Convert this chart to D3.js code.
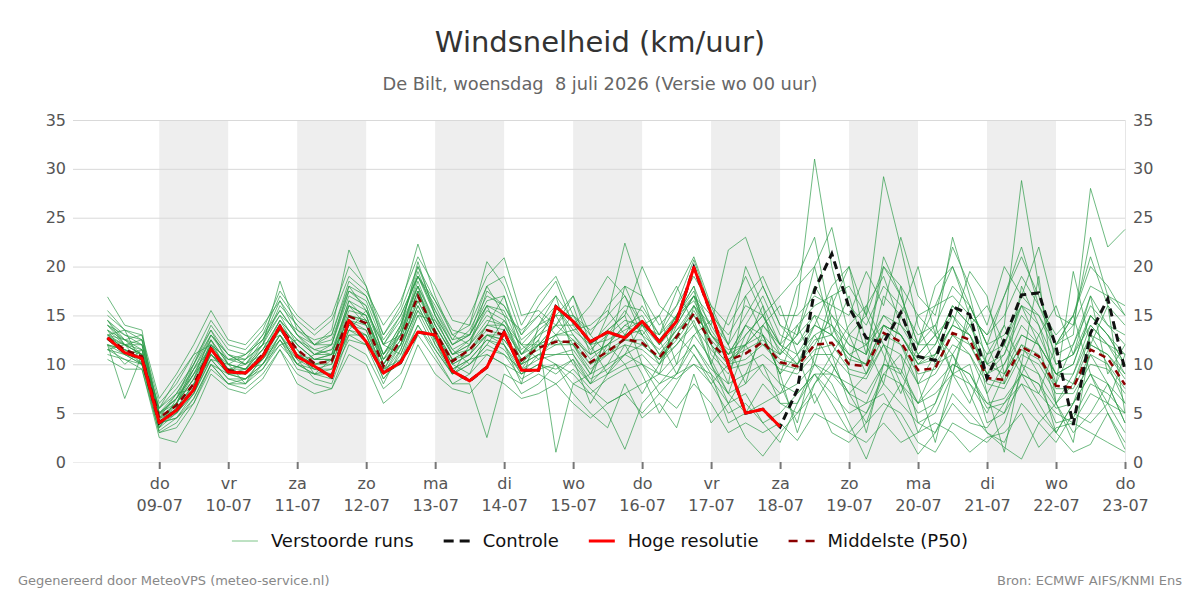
<!DOCTYPE html>
<html>
<head>
<meta charset="utf-8">
<script src="https://cdn.jsdelivr.net/npm/d3@7"></script>
<style>
  body { margin: 0; background: white; }
  #chart { width: 1200px; height: 600px; }
</style>
</head>
<body>
<div id="chart"></div>
<script>
var svgWidth = 1200;
var svgHeight = 600;

var margin = {
  top: 120,
  right: 75,
  bottom: 138,
  left: 73
};

var width = svgWidth - margin.left - margin.right;
var height = svgHeight - margin.top - margin.bottom;

var font = "'DejaVu Sans', sans-serif";

// Day names (Dutch) for the tick labels
var dayNames = ["zo", "ma", "di", "wo", "do", "vr", "za"];
var yTicks = [0, 5, 10, 15, 20, 25, 30, 35];

// Forecast runs, 6-hourly from wo 08-07 06:00
var startTime = new Date(2026, 6, 8, 6);

var hogeResolutie = [12.7, 11.2, 10.6, 4.0, 5.3, 7.4, 11.6, 9.2, 9.1, 10.8,
  13.9, 10.8, 9.8, 8.7, 14.5, 12.3, 9.1, 10.2, 13.3, 13.0,
  9.3, 8.3, 9.7, 13.3, 9.4, 9.4, 15.9, 14.4, 12.3, 13.3,
  12.7, 14.4, 12.3, 14.4, 19.9, 15.2, 10.0, 5.0, 5.4, 3.6];

var controle = [12.7, 11.2, 10.6, 4.0, 5.3, 7.4, 11.6, 9.2, 9.1, 10.8,
  13.9, 10.8, 9.8, 8.7, 14.5, 12.3, 9.1, 10.2, 13.3, 13.0,
  9.3, 8.3, 9.7, 13.3, 9.4, 9.4, 15.9, 14.4, 12.3, 13.3,
  12.7, 14.4, 12.3, 14.4, 19.9, 15.2, 10.0, 5.0, 5.4, 3.6,
  7.4, 17.6, 21.3, 15.8, 12.7, 12.2, 15.3, 10.8, 10.4, 15.9,
  15.1, 8.6, 12.5, 17.1, 17.3, 11.8, 3.8, 13.2, 16.7, 9.4];

var middelste = [12.7, 11.5, 10.8, 4.5, 5.8, 8.0, 11.5, 9.4, 9.1, 11.0,
  13.8, 11.5, 10.1, 10.3, 14.9, 14.2, 9.8, 12.5, 17.0, 13.3,
  10.3, 11.5, 13.5, 13.0, 10.4, 11.7, 12.3, 12.3, 10.2, 11.3,
  12.6, 12.2, 10.7, 12.8, 15.2, 12.2, 10.4, 11.1, 12.3, 10.2,
  9.8, 12.0, 12.2, 10.0, 9.8, 13.2, 12.3, 9.4, 9.6, 13.2,
  12.5, 8.6, 8.4, 11.8, 10.8, 7.8, 7.6, 11.5, 10.6, 7.9];

// Perturbed ensemble members
var run01 = [16.9, 14.0, 13.5, 3.5, 6.0, 9.5, 12.5, 10.0, 9.5, 12.0, 15.0, 12.0, 10.5, 11.0, 16.5, 15.5, 11.0, 14.0, 19.5, 15.0,
  12.0, 13.0, 16.0, 15.5, 11.5, 13.0, 15.0, 12.0, 9.0, 13.0, 15.5, 13.0, 10.0, 14.0, 17.0, 11.0, 9.0, 13.0, 15.0, 11.0,
  16.0, 31.0, 20.0, 13.0, 9.0, 14.0, 12.0, 8.0, 11.0, 15.0, 13.0, 9.0, 11.0, 16.0, 12.0, 6.0, 9.0, 14.0, 12.0, 10.0];
var run02 = [12.0, 6.5, 11.0, 4.0, 4.5, 7.0, 10.5, 8.5, 8.0, 10.0, 13.0, 10.0, 9.0, 9.0, 13.5, 13.0, 8.5, 11.0, 15.5, 12.0,
  9.5, 10.5, 12.5, 11.5, 9.0, 10.0, 9.5, 10.5, 8.0, 9.0, 10.0, 11.0, 9.0, 11.0, 13.0, 10.5, 7.0, 8.0, 10.0, 6.0,
  5.0, 8.0, 10.0, 7.0, 4.0, 9.0, 8.0, 5.0, 6.0, 10.0, 9.0, 5.5, 6.0, 9.0, 8.0, 4.0, 4.5, 8.0, 7.0, 5.0];
var run03 = [13.5, 12.0, 11.0, 5.0, 6.5, 9.0, 12.0, 10.5, 10.0, 11.5, 14.5, 12.5, 11.0, 11.5, 16.0, 15.0, 10.5, 13.0, 18.5, 14.0,
  11.0, 12.5, 15.0, 14.0, 12.0, 14.0, 16.0, 13.0, 11.0, 15.0, 22.4, 17.0, 12.0, 15.0, 17.5, 12.0, 10.0, 14.0, 13.0, 9.0,
  11.0, 14.0, 18.0, 20.0, 15.0, 29.2, 22.0, 14.0, 10.0, 13.0, 11.0, 7.0, 10.0, 14.0, 12.0, 9.0, 10.0, 15.0, 13.0, 11.0];
var run04 = [12.5, 11.0, 10.5, 4.2, 5.5, 7.5, 11.0, 9.0, 9.0, 10.5, 13.5, 11.0, 9.5, 10.0, 14.5, 14.0, 9.0, 12.0, 16.5, 13.0,
  10.0, 11.0, 13.0, 12.5, 10.0, 11.0, 11.0, 11.5, 9.0, 10.0, 11.0, 12.0, 10.5, 12.0, 14.5, 10.0, 6.0, 7.0, 4.0, 2.0,
  6.0, 10.0, 8.0, 4.0, 0.3, 5.0, 8.0, 3.0, 6.0, 11.0, 7.0, 3.0, 1.5, 0.3, 4.0, 6.0, 3.0, 5.0, 8.0, 4.0];
var run05 = [14.0, 12.5, 11.5, 5.5, 7.0, 10.0, 13.5, 11.0, 10.0, 12.5, 15.5, 13.0, 11.5, 12.0, 17.0, 16.0, 11.0, 14.0, 20.0, 15.5,
  12.5, 13.0, 16.5, 17.0, 12.0, 12.0, 14.0, 16.0, 11.0, 12.0, 14.0, 15.0, 12.0, 15.0, 18.0, 13.5, 11.0, 14.0, 17.0, 13.0,
  12.0, 15.0, 14.0, 11.0, 10.0, 17.0, 15.0, 11.0, 13.0, 23.0, 17.0, 10.0, 14.0, 28.8, 18.0, 10.0, 11.0, 17.0, 14.0, 12.0];
var run06 = [11.5, 11.0, 10.0, 3.0, 4.0, 6.5, 10.0, 8.0, 8.5, 9.5, 12.5, 10.5, 8.5, 8.0, 13.0, 12.0, 8.0, 11.5, 16.0, 12.5,
  9.0, 10.0, 12.0, 11.0, 9.5, 12.0, 13.0, 10.0, 8.0, 10.0, 13.0, 14.0, 11.0, 13.0, 16.0, 13.0, 11.5, 12.0, 13.0, 11.0,
  13.0, 18.0, 15.0, 12.0, 11.0, 15.0, 13.0, 10.0, 12.0, 16.0, 14.0, 11.0, 12.0, 17.0, 15.0, 12.0, 13.0, 28.0, 22.0, 23.8];
var run07 = [13.0, 12.5, 12.0, 5.0, 6.0, 8.5, 13.0, 10.5, 10.5, 12.0, 16.0, 14.0, 12.0, 13.0, 18.5, 17.0, 13.0, 16.0, 22.3, 17.0,
  13.0, 14.0, 20.5, 18.0, 13.0, 15.0, 17.0, 14.5, 12.0, 14.0, 16.0, 15.5, 13.0, 16.0, 20.7, 15.5, 12.0, 15.0, 18.0, 14.0,
  13.0, 20.0, 24.0, 16.0, 14.0, 18.0, 16.0, 13.0, 14.0, 18.0, 16.0, 12.0, 13.0, 16.0, 15.0, 11.0, 12.0, 16.0, 14.0, 13.0];
var run08 = [12.0, 11.5, 10.5, 3.5, 5.0, 7.0, 11.0, 9.5, 9.0, 10.5, 12.5, 9.5, 9.0, 9.5, 13.0, 13.0, 9.0, 10.0, 14.0, 11.0,
  8.0, 8.0, 2.5, 9.0, 8.0, 9.0, 8.0, 9.5, 7.5, 6.0, 7.0, 8.0, 9.0, 8.5, 10.0, 9.0, 7.0, 5.0, 6.0, 7.0,
  8.0, 10.0, 9.0, 8.0, 7.0, 10.0, 9.0, 6.0, 7.0, 9.0, 8.0, 6.0, 5.0, 8.0, 7.0, 5.0, 4.0, 7.0, 6.0, 5.0];
var run09 = [13.0, 12.0, 11.0, 4.5, 5.0, 7.5, 11.5, 9.0, 9.5, 11.0, 14.0, 11.0, 10.0, 10.5, 15.0, 14.5, 10.0, 12.5, 17.5, 13.0,
  10.5, 11.0, 14.0, 13.5, 11.0, 12.5, 1.0, 8.0, 7.0, 5.0, 1.3, 6.0, 8.0, 9.0, 10.0, 8.0, 5.0, 6.0, 4.0, 5.0,
  7.0, 9.0, 6.0, 3.0, 5.0, 8.0, 6.0, 4.0, 3.0, 7.0, 5.0, 3.0, 2.0, 6.0, 4.0, 2.0, 5.0, 4.0, 6.0, 3.0];
var run10 = [12.5, 12.0, 11.0, 4.5, 6.0, 8.5, 12.0, 9.5, 9.0, 11.0, 14.0, 12.0, 10.5, 10.5, 15.5, 15.0, 10.0, 13.0, 17.5, 14.0,
  11.0, 12.0, 14.5, 14.0, 10.5, 12.0, 13.0, 13.0, 10.5, 12.0, 13.0, 13.5, 11.0, 13.5, 16.0, 14.0, 21.7, 23.0, 18.0, 14.0,
  12.0, 14.0, 13.0, 11.0, 12.0, 14.0, 13.0, 10.0, 11.0, 14.0, 13.0, 9.0, 10.0, 13.0, 12.0, 9.0, 8.0, 12.0, 11.0, 9.0];
var run11 = [11.0, 10.5, 9.5, 3.0, 3.5, 6.0, 9.5, 8.0, 7.5, 9.0, 11.5, 9.0, 8.0, 7.5, 12.0, 11.0, 7.5, 9.0, 13.0, 10.5,
  8.0, 9.0, 11.0, 10.0, 7.0, 8.0, 10.0, 7.0, 5.0, 3.5, 8.0, 4.5, 6.0, 3.5, 9.0, 4.0, 6.0, 2.5, 0.6, 3.0,
  5.0, 7.0, 3.0, 2.0, 4.0, 6.0, 5.0, 2.0, 1.0, 4.0, 3.0, 2.0, 4.0, 9.0, 6.0, 3.0, 1.0, 1.8, 5.0, 2.0];
var run12 = [14.5, 13.0, 12.0, 5.5, 7.5, 10.0, 14.0, 11.5, 11.0, 13.0, 17.0, 14.5, 13.0, 14.5, 19.0, 17.5, 14.0, 16.5, 21.0, 18.0,
  14.5, 14.0, 18.0, 19.0, 14.0, 17.0, 19.0, 15.0, 13.0, 16.0, 18.0, 17.0, 14.0, 16.0, 19.0, 16.0, 14.0, 17.0, 19.0, 15.0,
  15.0, 17.0, 16.0, 15.0, 19.5, 16.0, 23.0, 17.0, 15.0, 22.0, 18.0, 14.0, 20.0, 17.0, 22.0, 15.0, 14.0, 18.0, 17.0, 15.0];
var run13 = [13.0, 11.5, 10.5, 4.0, 5.5, 8.0, 11.0, 9.0, 8.5, 10.5, 13.0, 11.0, 10.0, 10.0, 14.5, 13.5, 9.5, 12.0, 16.5, 13.0,
  10.0, 11.0, 13.0, 12.5, 10.0, 11.0, 12.0, 12.0, 9.5, 11.0, 12.0, 11.5, 10.0, 12.0, 14.0, 11.5, 9.5, 10.0, 11.0, 9.5,
  9.0, 11.0, 11.0, 9.0, 8.5, 12.0, 11.0, 8.0, 9.0, 12.0, 11.0, 8.0, 7.5, 11.0, 10.0, 7.0, 7.0, 10.0, 9.5, 7.0];
var run14 = [15.0, 13.5, 12.5, 6.0, 8.0, 11.0, 14.5, 12.0, 11.5, 13.5, 17.5, 15.0, 13.5, 15.0, 20.0, 18.0, 12.0, 15.0, 19.0, 16.0,
  12.5, 15.0, 19.0, 20.9, 15.0, 15.5, 14.0, 17.0, 12.0, 13.5, 15.0, 20.0, 16.0, 14.5, 17.0, 15.0, 13.0, 16.0, 15.0, 12.0,
  14.0, 16.0, 17.0, 18.0, 15.0, 20.0, 18.0, 15.0, 16.0, 17.0, 15.0, 13.0, 15.0, 19.0, 16.0, 13.0, 15.0, 21.0, 16.0, 14.0];
var run15 = [12.0, 11.0, 10.0, 3.8, 5.0, 7.0, 10.5, 8.5, 8.5, 10.0, 13.0, 10.5, 9.5, 9.5, 14.0, 13.5, 9.0, 11.5, 16.0, 12.5,
  9.5, 10.5, 12.5, 12.0, 9.5, 10.5, 11.0, 11.0, 8.5, 9.5, 11.0, 10.0, 7.0, 9.0, 12.0, 9.0, 4.0, 5.0, 8.0, 6.0,
  6.0, 9.0, 7.0, 5.0, 6.0, 7.0, 4.0, 0.8, 3.0, 6.0, 4.0, 3.5, 6.0, 8.0, 5.0, 3.0, 6.0, 9.0, 5.0, 1.3];
var run16 = [12.8, 12.0, 11.5, 4.8, 6.5, 9.0, 12.5, 10.0, 9.5, 11.5, 14.5, 12.5, 11.0, 11.0, 16.0, 15.0, 10.5, 13.5, 18.0, 14.5,
  11.5, 12.5, 15.5, 14.5, 11.0, 13.0, 14.0, 14.0, 11.5, 13.0, 14.5, 14.0, 12.0, 14.0, 17.0, 14.0, 11.0, 13.0, 15.0, 12.0,
  11.0, 13.0, 14.0, 12.0, 11.0, 20.0, 17.0, 12.0, 12.0, 16.0, 14.0, 10.0, 11.0, 15.0, 13.0, 9.0, 10.0, 15.0, 13.0, 10.0];
var run17 = [11.5, 10.5, 10.0, 3.2, 4.5, 6.5, 10.0, 8.0, 8.0, 9.5, 12.0, 10.0, 9.0, 8.5, 13.5, 12.5, 8.5, 10.5, 15.0, 11.5,
  9.0, 10.0, 11.5, 11.0, 8.5, 9.5, 10.0, 9.0, 7.0, 8.5, 9.5, 10.0, 8.0, 10.0, 12.0, 9.5, 8.0, 9.0, 10.0, 8.0,
  7.0, 9.0, 9.0, 7.0, 6.0, 10.0, 9.5, 6.0, 8.0, 10.0, 9.0, 6.0, 6.5, 9.0, 8.0, 5.5, 6.0, 9.0, 8.0, 6.0];
var run18 = [14.0, 13.0, 12.5, 5.0, 7.0, 9.5, 13.0, 11.0, 10.0, 12.0, 18.5, 13.5, 12.0, 12.5, 17.5, 16.5, 12.0, 14.5, 19.0, 15.0,
  12.0, 13.5, 17.0, 16.0, 12.5, 14.0, 15.0, 15.0, 12.0, 12.5, 13.5, 14.5, 12.5, 15.0, 16.5, 13.0, 10.5, 12.0, 14.0, 11.5,
  10.0, 12.0, 15.0, 13.0, 12.0, 15.0, 14.0, 11.0, 13.0, 15.0, 12.0, 9.0, 12.0, 16.0, 14.0, 10.0, 11.0, 14.0, 12.0, 11.0];
var run19 = [13.5, 12.5, 11.0, 4.3, 6.0, 8.5, 11.5, 9.5, 9.5, 11.5, 13.5, 11.5, 10.0, 10.5, 15.0, 14.5, 10.5, 12.0, 17.0, 13.5,
  10.5, 11.5, 13.5, 13.0, 10.0, 12.0, 12.0, 12.5, 10.0, 11.5, 12.5, 12.5, 10.5, 12.5, 15.0, 12.0, 10.0, 10.5, 12.0, 10.0,
  9.5, 11.5, 12.0, 9.5, 9.0, 13.0, 12.0, 9.0, 9.5, 13.0, 12.0, 8.5, 8.0, 11.5, 10.5, 7.5, 7.5, 11.0, 10.0, 7.5];
var run20 = [12.5, 11.5, 11.0, 4.0, 5.5, 8.0, 12.0, 9.5, 9.0, 11.0, 13.5, 11.0, 10.5, 10.5, 15.0, 14.0, 10.0, 12.5, 17.5, 13.5,
  10.5, 11.5, 13.0, 13.0, 10.5, 11.5, 12.5, 12.0, 10.0, 11.0, 12.5, 12.0, 10.5, 13.0, 15.5, 12.5, 10.5, 11.5, 12.5, 10.5,
  10.0, 12.5, 13.0, 10.5, 10.0, 14.0, 13.0, 10.0, 10.5, 14.0, 19.5, 17.0, 9.0, 12.0, 11.0, 8.0, 19.5, 12.0, 11.0, 8.5];
var run21 = [15.5, 13.5, 13.0, 6.5, 9.0, 12.0, 15.5, 12.5, 12.0, 14.0, 16.5, 14.0, 12.0, 13.5, 21.7, 18.0, 13.0, 15.5, 20.0, 16.5,
  13.0, 12.0, 17.5, 16.0, 13.0, 16.0, 18.5, 14.0, 16.0, 19.0, 17.0, 13.0, 15.0, 18.0, 14.0, 10.0, 15.0, 19.0, 15.0, 17.0,
  19.0, 23.0, 14.0, 10.0, 16.0, 19.0, 14.0, 12.0, 18.0, 20.0, 16.0, 12.0, 17.0, 22.0, 16.0, 12.0, 15.0, 20.0, 18.0, 15.0];
var run22 = [10.5, 9.5, 9.5, 2.5, 2.0, 5.0, 9.0, 7.5, 7.0, 8.5, 11.5, 8.0, 7.0, 7.5, 11.0, 10.0, 6.0, 7.5, 12.0, 9.0,
  7.5, 7.0, 9.0, 8.0, 6.5, 7.0, 8.0, 6.0, 4.5, 6.0, 7.0, 5.0, 7.0, 5.5, 8.0, 6.0, 3.0, 4.0, 3.0, 4.0,
  2.2, 5.0, 4.0, 3.0, 2.0, 4.0, 2.0, 3.0, 4.0, 3.0, 1.0, 2.5, 3.0, 5.0, 1.5, 3.5, 4.0, 3.0, 2.0, 1.0];
var run23 = [14.5, 12.0, 12.5, 4.0, 6.0, 10.0, 13.0, 11.0, 10.5, 13.0, 15.5, 13.0, 11.0, 12.0, 17.5, 16.0, 11.0, 13.5, 20.5, 15.0,
  11.0, 11.5, 14.0, 17.0, 11.0, 13.5, 15.0, 17.0, 13.0, 11.0, 18.0, 14.0, 15.0, 10.0, 16.0, 12.0, 8.0, 17.0, 13.0, 9.0,
  14.0, 10.0, 16.0, 20.0, 12.0, 8.0, 15.0, 20.0, 13.0, 9.0, 16.0, 12.0, 8.0, 18.0, 14.0, 8.0, 12.0, 17.0, 9.0, 12.0];
var run24 = [11.5, 12.0, 12.0, 5.0, 5.0, 8.0, 10.5, 10.0, 9.5, 10.0, 12.0, 12.5, 11.5, 11.0, 13.5, 15.5, 12.0, 11.0, 15.0, 14.5,
  11.5, 10.0, 12.0, 14.5, 12.0, 10.5, 13.0, 13.5, 12.0, 9.0, 11.0, 14.0, 12.5, 9.0, 13.0, 14.5, 12.0, 8.0, 14.0, 16.0,
  11.0, 6.0, 9.0, 13.0, 15.0, 11.0, 7.0, 12.0, 14.0, 9.0, 6.0, 11.0, 14.0, 10.0, 7.0, 12.0, 15.0, 9.0, 6.0, 11.0];
var run25 = [13.0, 13.5, 10.0, 4.5, 7.0, 7.5, 12.5, 9.0, 10.5, 12.0, 13.0, 10.0, 11.0, 11.5, 14.0, 13.0, 9.0, 14.0, 18.0, 12.0,
  9.0, 12.0, 16.0, 12.0, 8.0, 14.0, 17.0, 11.0, 8.0, 13.5, 15.0, 10.0, 9.0, 15.0, 18.0, 10.0, 7.0, 12.0, 16.0, 8.0,
  4.0, 11.0, 17.0, 9.0, 3.0, 10.0, 18.0, 8.0, 2.0, 9.0, 15.0, 7.0, 1.0, 10.0, 19.0, 6.0, 2.0, 12.0, 16.0, 5.0];
var run26 = [12.0, 10.0, 11.5, 3.5, 6.5, 9.5, 11.5, 10.0, 8.0, 11.0, 14.5, 11.5, 9.0, 10.5, 16.0, 14.0, 10.0, 12.0, 15.5, 13.5,
  10.0, 9.0, 13.0, 12.0, 9.0, 11.0, 10.0, 8.0, 9.0, 12.0, 10.0, 7.0, 10.0, 13.0, 11.0, 8.0, 10.0, 12.0, 9.0, 7.0,
  10.0, 13.0, 10.0, 7.0, 9.0, 12.0, 8.0, 6.0, 10.0, 11.0, 8.0, 5.0, 9.0, 12.0, 9.0, 6.0, 8.0, 13.0, 10.0, 6.0];
var run27 = [14.0, 12.0, 10.0, 5.5, 8.5, 11.0, 12.0, 10.5, 11.0, 12.5, 16.5, 13.0, 12.0, 12.0, 18.0, 15.5, 12.0, 13.0, 19.0, 15.5,
  12.0, 13.0, 18.0, 15.0, 10.0, 12.5, 16.0, 13.5, 14.0, 15.5, 13.0, 16.0, 13.0, 17.5, 21.0, 16.0, 12.0, 20.0, 16.0, 12.0,
  18.0, 20.0, 13.0, 17.0, 11.0, 21.0, 17.0, 12.0, 16.0, 20.0, 15.0, 13.0, 17.0, 21.0, 17.0, 12.0, 14.0, 23.0, 17.0, 16.0];
var run28 = [12.0, 11.5, 10.0, 4.0, 4.5, 6.0, 10.0, 9.0, 8.5, 10.0, 12.5, 10.0, 9.5, 9.0, 12.5, 12.0, 9.5, 10.5, 14.0, 11.5,
  9.0, 10.5, 11.0, 10.0, 9.0, 10.0, 9.0, 10.5, 6.0, 9.0, 12.0, 9.0, 5.0, 8.0, 11.0, 8.5, 6.0, 9.0, 13.0, 9.0,
  3.0, 8.0, 11.0, 6.0, 5.0, 9.0, 11.0, 4.0, 5.0, 9.0, 10.0, 4.0, 5.0, 10.0, 9.0, 3.0, 6.0, 11.0, 8.0, 4.0];
var run29 = [13.5, 11.0, 11.5, 4.5, 6.0, 9.0, 11.0, 9.5, 10.0, 11.0, 14.0, 12.0, 10.5, 11.0, 16.5, 14.5, 11.0, 13.0, 18.0, 14.0,
  11.0, 12.0, 14.0, 14.0, 11.0, 12.0, 14.0, 12.5, 11.0, 12.0, 14.0, 13.0, 11.5, 13.5, 15.0, 13.0, 11.0, 12.0, 14.0, 12.0,
  10.0, 14.0, 13.0, 11.0, 10.0, 14.0, 13.0, 10.5, 11.0, 14.0, 13.0, 10.0, 9.0, 13.0, 12.0, 9.0, 9.0, 13.0, 12.0, 9.0];
var run30 = [14.5, 12.5, 13.0, 5.0, 6.5, 10.5, 13.5, 10.0, 11.0, 12.5, 15.0, 13.5, 12.5, 13.0, 18.0, 17.0, 12.5, 15.0, 19.0, 16.5,
  13.5, 13.0, 16.0, 15.0, 13.5, 15.0, 13.0, 15.0, 13.5, 15.0, 17.0, 14.0, 13.0, 15.0, 17.0, 13.0, 11.0, 14.0, 12.0, 11.0,
  13.0, 15.0, 11.0, 14.0, 16.0, 12.0, 9.0, 15.0, 13.0, 11.0, 14.0, 16.0, 12.0, 9.0, 13.0, 16.0, 11.0, 15.0, 13.0, 10.0];

var runs = [run01, run02, run03, run04, run05, run06, run07, run08, run09, run10,
  run11, run12, run13, run14, run15, run16, run17, run18, run19, run20,
  run21, run22, run23, run24, run25, run26, run27, run28, run29, run30];

// time for each 6-hourly step
function timeAt(i) {
  return d3.timeHour.offset(startTime, i * 6);
}

var svg = d3.select("#chart")
  .append("svg")
  .attr("width", svgWidth)
  .attr("height", svgHeight)
  .style("background-color", "white")
  .style("font-family", font);

var chartGroup = svg.append("g")
  .attr("transform", `translate(${margin.left}, ${margin.top})`);

// Scales
var xTimeScale = d3.scaleTime()
  .domain([new Date(2026, 6, 7, 18), new Date(2026, 6, 23, 0)])
  .range([0, width]);

var yLinearScale = d3.scaleLinear()
  .domain([0, 35])
  .range([height, 0]);

var dayTicks = d3.timeDay.range(new Date(2026, 6, 9), new Date(2026, 6, 23, 1));

// Shaded bands every other day
var bandDays = dayTicks.filter((d, i) => i % 2 === 0 && i < dayTicks.length - 1);
chartGroup.selectAll(".band")
  .data(bandDays)
  .enter()
  .append("rect")
  .attr("class", "band")
  .attr("x", d => xTimeScale(d))
  .attr("y", 0)
  .attr("width", d => xTimeScale(d3.timeDay.offset(d, 1)) - xTimeScale(d))
  .attr("height", height)
  .attr("fill", "#eeeeee");

// Horizontal grid
chartGroup.selectAll(".grid")
  .data(yTicks)
  .enter()
  .append("line")
  .attr("x1", 0)
  .attr("x2", width)
  .attr("y1", d => yLinearScale(d) + 0.5)
  .attr("y2", d => yLinearScale(d) + 0.5)
  .attr("stroke", d => d === 0 ? "#ececec" : "#d9d9d9")
  .attr("stroke-width", 1);

// right border
chartGroup.append("line")
  .attr("x1", width + 0.5)
  .attr("x2", width + 0.5)
  .attr("y1", 0)
  .attr("y2", height)
  .attr("stroke", "#e6e6e6");

// Axes
var leftAxis = d3.axisLeft(yLinearScale).tickValues(yTicks).tickSize(0).tickPadding(7);
var rightAxis = d3.axisRight(yLinearScale).tickValues(yTicks).tickSize(0).tickPadding(8);

function styleAxis(g) {
  g.select(".domain").remove();
  g.selectAll("text")
    .style("font-family", font)
    .style("font-size", "16px")
    .attr("fill", "#555");
}

chartGroup.append("g").call(leftAxis).call(styleAxis);
chartGroup.append("g")
  .attr("transform", `translate(${width}, 0)`)
  .call(rightAxis).call(styleAxis);

var bottomAxis = d3.axisBottom(xTimeScale)
  .tickValues(dayTicks)
  .tickSize(7)
  .tickFormat("");

var xAxisGroup = chartGroup.append("g")
  .attr("transform", `translate(0, ${height})`)
  .call(bottomAxis);
xAxisGroup.select(".domain").remove();
xAxisGroup.selectAll(".tick line")
  .attr("stroke", "#777")
  .attr("stroke-width", 2);

var tickText = xAxisGroup.selectAll(".tick")
  .append("text")
  .attr("text-anchor", "middle")
  .attr("fill", "#555")
  .style("font-size", "16px")
  .style("font-family", font);
tickText.append("tspan")
  .attr("x", 0)
  .attr("y", 27)
  .text(d => dayNames[d.getDay()]);
tickText.append("tspan")
  .attr("x", 0)
  .attr("y", 49)
  .text(d => d3.timeFormat("%d-%m")(d));

// Lines
var line = d3.line()
  .x((d, i) => xTimeScale(timeAt(i)))
  .y(d => yLinearScale(d));

chartGroup.selectAll(".run")
  .data(runs)
  .enter()
  .append("path")
  .attr("class", "run")
  .attr("d", line)
  .attr("fill", "none")
  .attr("stroke", "#2a9a45")
  .attr("stroke-opacity", 0.68)
  .attr("stroke-width", 1);

chartGroup.append("path")
  .attr("d", line(middelste))
  .attr("fill", "none")
  .attr("stroke", "#8b0000")
  .attr("stroke-width", 2.5)
  .attr("stroke-dasharray", "7,5");

chartGroup.append("path")
  .attr("d", line(controle))
  .attr("fill", "none")
  .attr("stroke", "#111")
  .attr("stroke-width", 3)
  .attr("stroke-dasharray", "8,5");

chartGroup.append("path")
  .attr("d", line(hogeResolutie))
  .attr("fill", "none")
  .attr("stroke", "#ff0000")
  .attr("stroke-width", 3)
  .attr("stroke-linejoin", "round");

// Titles
svg.append("text")
  .attr("x", svgWidth / 2)
  .attr("y", 52)
  .attr("text-anchor", "middle")
  .attr("fill", "#333")
  .style("font-size", "29px")
  .text("Windsnelheid (km/uur)");

svg.append("text")
  .attr("x", svgWidth / 2)
  .attr("y", 90)
  .attr("text-anchor", "middle")
  .attr("fill", "#666")
  .style("font-size", "17.8px")
  .style("white-space", "pre")
  .attr("xml:space", "preserve")
  .text("De Bilt, woensdag  8 juli 2026 (Versie wo 00 uur)");

// Legend
var legendItems = [
  {label: "Verstoorde runs", color: "#7cc487", width: 1, dash: null},
  {label: "Controle", color: "#111", width: 3, dash: "10,6"},
  {label: "Hoge resolutie", color: "#ff0000", width: 3, dash: null},
  {label: "Middelste (P50)", color: "#8b0000", width: 2.5, dash: "9,8"}
];

var legend = svg.append("g").attr("transform", "translate(0, 541)");
var lx = 0;
legendItems.forEach(function(item) {
  var g = legend.append("g").attr("transform", `translate(${lx}, 0)`);
  g.append("line")
    .attr("x1", 0).attr("x2", 26)
    .attr("y1", 0).attr("y2", 0)
    .attr("stroke", item.color)
    .attr("stroke-width", item.width)
    .attr("stroke-dasharray", item.dash);
  var t = g.append("text")
    .attr("x", 39)
    .attr("y", 6)
    .attr("fill", "#111")
    .style("font-size", "18px")
    .text(item.label);
  lx += 39 + t.node().getComputedTextLength() + 30;
});
var legendWidth = lx - 30;
legend.attr("transform", `translate(${(svgWidth - legendWidth) / 2}, 541)`);

// Footer
svg.append("text")
  .attr("x", 18)
  .attr("y", 585)
  .attr("fill", "#888")
  .style("font-size", "13px")
  .text("Gegenereerd door MeteoVPS (meteo-service.nl)");

svg.append("text")
  .attr("x", 1182)
  .attr("y", 585)
  .attr("text-anchor", "end")
  .attr("fill", "#888")
  .style("font-size", "13px")
  .text("Bron: ECMWF AIFS/KNMI Ens");
</script>
</body>
</html>
